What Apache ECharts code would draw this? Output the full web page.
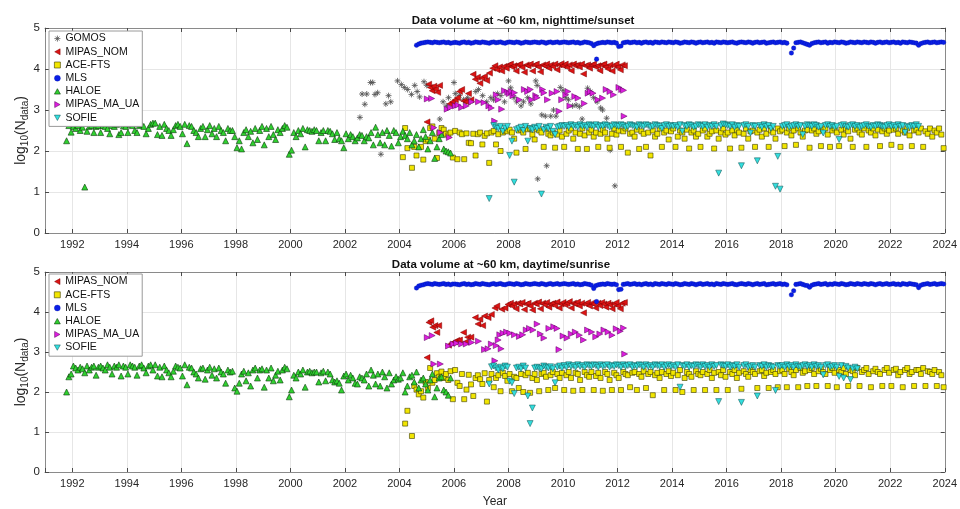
<!DOCTYPE html>
<html><head><meta charset="utf-8">
<script src="https://cdn.jsdelivr.net/npm/echarts@6/dist/echarts.min.js"></script>
<style>html,body{margin:0;padding:0;background:#fff}#c{width:960px;height:509px}</style>
</head><body><div id="c"></div>
<script>
// ---------------- DATA ----------------
const titles = ['Data volume at ~60 km, nighttime/sunset', 'Data volume at ~60 km, daytime/sunrise'];
const xTicks = [1992,1994,1996,1998,2000,2002,2004,2006,2008,2010,2012,2014,2016,2018,2020,2022,2024];
const yTicks = [0,1,2,3,4,5];
const legendTop = ['GOMOS','MIPAS_NOM','ACE-FTS','MLS','HALOE','MIPAS_MA_UA','SOFIE'];
const legendBot = ['MIPAS_NOM','ACE-FTS','MLS','HALOE','MIPAS_MA_UA','SOFIE'];

// monthly series: [startYear, startMonth] then one value per month (null = no point)
const haloeStart = [1991, 10];
const haloeN = [
2.25,2.62,2.46,
2.6,2.55,2.62,2.5,2.58,1.12,2.48,2.6,2.62,2.45,2.6,2.62,
2.45,2.62,2.6,2.55,2.42,2.62,2.6,2.65,2.4,2.45,2.62,2.6,
2.45,2.65,2.62,2.5,2.45,2.62,2.65,2.6,2.42,2.55,2.65,2.68,
2.68,2.4,2.6,2.38,2.65,2.55,2.5,2.38,2.52,2.62,2.65,2.6,
2.42,2.65,2.18,2.62,2.6,2.5,2.45,2.35,2.55,2.6,2.35,2.52,
2.62,2.42,2.55,2.35,2.6,2.5,2.45,2.25,2.55,2.5,2.5,2.35,
2.08,2.25,2.05,2.45,2.52,2.35,2.48,2.2,2.55,2.28,2.5,2.6,
2.15,2.55,2.35,2.6,2.4,2.28,2.52,2.45,2.55,2.62,2.58,1.92,
2.02,2.45,2.35,2.5,2.42,2.55,2.1,2.52,2.5,2.48,2.52,2.5,
2.25,2.45,2.5,2.25,2.5,2.48,2.42,2.28,2.45,2.3,2.25,2.08,
2.42,2.3,2.4,2.35,2.25,2.32,2.4,2.38,2.25,2.35,2.32,2.45,
2.15,2.58,2.4,2.2,2.45,2.15,2.5,2.38,2.12,2.5,2.45,2.2,
2.35,2.48,2.38,2.3,2.45,2.15,2.25,2.4,2.1,2.3,2.52,2.35,
2.05,2.25,2.45,1.82,2.1,2.3,2.4,2.05,2.0,1.98,1.95
];
const haloeD = [
2.0,2.38,2.45,
2.65,2.6,2.55,2.62,2.58,2.48,2.65,2.55,2.62,2.65,2.42,2.62,
2.65,2.6,2.55,2.68,2.62,2.45,2.65,2.62,2.68,2.4,2.65,2.62,
2.45,2.68,2.65,2.62,2.42,2.65,2.68,2.6,2.48,2.65,2.68,2.55,
2.68,2.4,2.62,2.38,2.65,2.55,2.48,2.38,2.52,2.65,2.62,2.6,
2.4,2.68,2.18,2.62,2.6,2.5,2.45,2.35,2.58,2.6,2.32,2.55,
2.62,2.42,2.58,2.35,2.6,2.5,2.45,2.22,2.55,2.5,2.52,2.1,
2.02,2.22,2.45,2.52,2.28,2.48,2.15,2.55,2.6,2.35,2.55,2.58,
2.12,2.55,2.35,2.6,2.28,2.42,2.52,2.3,2.55,2.62,2.58,1.88,
2.05,2.42,2.35,2.5,2.45,2.55,2.12,2.5,2.52,2.48,2.5,2.5,
2.25,2.48,2.52,2.28,2.5,2.45,2.3,2.25,2.28,2.22,2.05,2.4,
2.45,2.3,2.42,2.35,2.22,2.2,2.38,2.35,2.3,2.45,2.15,2.55,
2.42,2.2,2.45,2.15,2.5,2.38,2.1,2.48,2.2,2.3,2.38,2.32,
2.35,2.48,2.0,2.15,2.38,2.42,2.25,2.5,2.1,2.3,2.35,2.2,
2.05,2.3,2.45,1.88,2.1,2.35,2.38,2.05,2.0,1.92,2.35
];

const mlsStart = [2004, 8];
const mlsN = [
4.58,4.61,4.63,4.64,4.65,
4.66,4.65,4.64,4.66,4.65,4.64,4.65,4.66,4.64,4.65,4.63,4.64,
4.65,4.64,4.63,4.65,4.66,4.64,4.65,4.63,4.64,4.66,4.65,4.64,
4.66,4.65,4.64,4.63,4.65,4.66,4.64,4.65,4.66,4.64,4.63,4.65,
4.66,4.65,4.64,4.66,4.65,4.63,4.64,4.66,4.65,4.64,4.65,4.66,
4.65,4.64,4.66,4.65,4.63,4.65,4.66,4.64,4.65,4.66,4.64,4.65,
4.66,4.65,4.64,4.65,4.66,4.64,4.65,4.63,4.64,4.66,4.65,4.64,
4.62,4.57,4.61,4.63,4.64,4.65,4.64,4.66,4.65,4.64,4.65,4.63,
4.55,4.56,4.64,4.65,4.66,4.64,4.65,4.66,4.64,4.65,4.63,4.65,
4.66,4.64,4.65,4.63,4.66,4.65,4.64,4.66,4.65,4.64,4.66,4.65,
4.64,4.66,4.65,4.63,4.64,4.66,4.65,4.64,4.66,4.65,4.63,4.65,
4.66,4.64,4.65,4.66,4.64,4.65,4.63,4.66,4.65,4.64,4.66,4.65,
4.64,4.65,4.66,4.64,4.63,4.65,4.66,4.65,4.64,4.66,4.65,4.63,
4.65,4.66,4.64,4.65,4.66,4.63,4.64,4.65,4.66,4.64,4.65,4.66,
4.64,4.65,4.63,null,4.39,4.51,4.64,4.65,4.66,4.64,4.62,4.6,
4.58,4.62,4.64,4.65,4.66,4.64,4.65,4.66,4.63,4.65,4.64,4.66,
4.65,4.64,4.66,4.65,4.63,4.64,4.66,4.65,4.64,4.66,4.65,4.64,
4.66,4.65,4.64,4.66,4.65,4.63,4.65,4.66,4.64,4.65,4.66,4.64,
4.65,4.66,4.64,4.65,4.63,4.66,4.65,4.64,4.66,4.65,4.64,4.63,
4.58,4.62,4.64,4.65,4.66,4.64,4.65,4.66,4.64,4.65,4.66,4.65
];
const mlsExtraN = [[2011.23, 4.24]];
const mlsD = [
4.6,4.65,4.67,4.68,4.7,
4.71,4.7,4.69,4.71,4.7,4.69,4.7,4.71,4.69,4.7,4.68,4.7,
4.7,4.69,4.68,4.7,4.71,4.69,4.7,4.68,4.69,4.71,4.7,4.69,
4.71,4.7,4.69,4.68,4.7,4.71,4.69,4.7,4.71,4.69,4.68,4.7,
4.71,4.7,4.69,4.71,4.7,4.68,4.69,4.71,4.7,4.69,4.7,4.71,
4.7,4.69,4.71,4.7,4.68,4.7,4.71,4.69,4.7,4.71,4.69,4.7,
4.71,4.7,4.69,4.7,4.71,4.69,4.7,4.68,4.69,4.71,4.7,4.69,
4.67,4.59,4.66,4.68,4.69,4.7,4.69,4.71,4.7,4.69,4.7,4.68,
4.56,4.57,4.69,4.7,4.71,4.69,4.7,4.71,4.69,4.7,4.68,4.7,
4.71,4.69,4.7,4.68,4.71,4.7,4.69,4.71,4.7,4.69,4.71,4.7,
4.69,4.71,4.7,4.68,4.69,4.71,4.7,4.69,4.71,4.7,4.68,4.7,
4.71,4.69,4.7,4.71,4.69,4.7,4.68,4.71,4.7,4.69,4.71,4.7,
4.69,4.7,4.71,4.69,4.68,4.7,4.71,4.7,4.69,4.71,4.7,4.68,
4.7,4.71,4.69,4.7,4.71,4.68,4.69,4.7,4.71,4.69,4.7,4.71,
4.69,4.7,4.68,null,4.43,4.53,4.69,4.7,4.71,4.69,4.67,4.66,
4.62,4.67,4.69,4.7,4.71,4.69,4.7,4.71,4.68,4.7,4.69,4.71,
4.7,4.69,4.71,4.7,4.68,4.69,4.71,4.7,4.69,4.71,4.7,4.69,
4.71,4.7,4.69,4.71,4.7,4.68,4.7,4.71,4.69,4.7,4.71,4.69,
4.7,4.71,4.69,4.7,4.68,4.71,4.7,4.69,4.71,4.7,4.69,4.68,
4.61,4.67,4.69,4.7,4.71,4.69,4.7,4.71,4.69,4.7,4.71,4.7
];
const mlsExtraD = [[2011.23, 4.26]];

const aceStart = [2004, 1];
const aceN = [
null,1.85,2.56,2.07,null,1.59,2.1,1.89,null,2.1,1.79,2.24,
2.28,2.56,2.6,2.3,1.83,2.44,2.56,2.52,2.42,2.38,2.45,1.84,
2.49,1.8,2.45,2.41,1.8,2.43,2.2,2.19,2.42,1.89,2.41,2.45,
2.16,2.37,2.43,1.71,2.45,2.49,2.16,2.41,2.0,2.45,2.5,2.48,
2.52,2.45,2.3,1.96,2.5,2.52,2.45,2.05,2.53,2.55,2.4,2.28,
2.53,2.5,2.45,2.1,2.55,2.42,2.38,2.45,2.08,2.4,2.5,2.35,
2.1,2.42,2.5,2.55,2.3,2.45,2.05,2.42,2.55,2.38,2.05,2.45,
2.52,2.35,2.45,2.1,2.42,2.52,2.45,2.3,2.08,2.42,2.55,2.4,
2.5,2.1,2.48,2.55,1.96,2.42,2.45,2.35,2.52,2.05,2.48,2.42,
2.1,2.45,1.89,2.5,2.35,2.42,2.55,2.1,2.45,2.5,2.28,2.48,
2.55,2.1,2.35,2.5,2.45,2.3,2.52,2.06,2.45,2.5,2.35,2.42,
2.1,2.5,2.55,2.35,2.42,2.48,2.06,2.5,2.3,2.45,2.55,2.4,
2.45,2.06,2.5,2.38,2.52,2.45,2.08,2.42,2.55,2.3,2.48,2.5,
2.1,2.45,2.52,2.35,2.55,2.42,2.1,2.5,2.45,2.3,2.55,2.48,
2.52,2.12,2.45,2.55,2.38,2.5,2.15,2.55,2.45,2.35,2.5,2.52,
2.08,2.5,2.55,2.42,2.48,2.12,2.52,2.55,2.4,2.1,2.5,2.55,
2.45,2.12,2.52,2.4,2.55,2.48,2.3,2.1,2.52,2.55,2.45,2.4,
2.55,2.1,2.5,2.45,2.55,2.38,2.52,2.12,2.48,2.55,2.42,2.5,
2.15,2.52,2.55,2.42,2.1,2.5,2.45,2.55,2.38,2.12,2.5,2.52,
2.45,2.55,2.1,2.48,2.42,2.55,2.35,2.5,2.45,2.55,2.4,2.07
];
const aceD = [
null,null,1.21,1.53,null,0.9,2.15,2.06,1.94,2.02,1.86,2.25,
2.1,2.6,2.23,2.3,2.47,2.38,2.51,2.35,2.45,2.3,2.52,1.82,
2.55,2.23,2.15,2.45,1.82,2.06,2.43,2.19,1.9,2.35,2.42,2.32,
2.2,2.47,1.76,2.3,2.45,2.12,2.35,2.42,2.02,2.48,2.4,2.28,
2.45,2.02,2.38,2.35,2.1,2.45,2.0,2.42,2.48,1.98,2.35,2.45,
2.3,2.02,2.45,2.48,2.38,2.05,2.42,2.5,2.1,2.45,2.35,2.48,
2.05,2.42,2.5,2.35,2.03,2.48,2.45,2.3,2.05,2.5,2.42,2.38,
2.5,2.05,2.4,2.48,2.35,2.03,2.5,2.45,2.3,2.05,2.48,2.42,
2.35,2.05,2.5,2.45,2.42,2.12,2.48,2.5,2.05,2.45,2.38,2.52,
2.1,2.45,2.5,1.92,2.42,2.48,2.35,2.5,2.05,2.45,2.52,2.4,
2.48,2.05,2.42,2.55,2.0,2.35,2.5,2.45,2.38,2.05,2.52,2.45,
2.42,2.5,2.05,2.45,2.55,2.35,2.48,2.05,2.5,2.42,2.55,2.38,
2.05,2.5,2.45,2.55,2.35,2.48,2.08,2.52,2.45,2.38,2.55,2.5,
2.45,2.1,2.52,2.55,2.4,2.48,2.1,2.5,2.55,2.45,2.12,2.52,
2.55,2.45,2.12,2.58,2.5,2.42,2.55,2.12,2.6,2.48,2.52,2.15,
2.55,2.6,2.45,2.15,2.52,2.58,2.5,2.45,2.15,2.55,2.6,2.48,
2.12,2.55,2.5,2.6,2.45,2.15,2.55,2.52,2.42,2.6,2.15,2.5,
2.55,2.6,2.45,2.12,2.52,2.58,2.5,2.45,2.15,2.55,2.6,2.48,
2.15,2.55,2.58,2.42,2.5,2.12,2.55,2.6,2.45,2.5,2.15,2.55,
2.55,2.45,2.6,2.15,2.52,2.5,2.45,2.55,2.15,2.5,2.42,2.12
];

const sofieStart = [2007, 4];
const sofieN = [
0.84,null,2.62,2.58,2.55,2.6,2.48,2.56,2.6,
1.89,2.24,1.24,2.52,2.55,2.58,2.5,2.6,2.24,2.55,2.52,2.58,
2.55,2.6,0.95,2.52,2.58,2.55,2.6,2.48,2.4,2.58,2.6,2.62,
2.6,2.62,2.58,2.64,2.6,2.62,2.58,2.64,2.6,2.62,2.58,2.64,
2.62,2.6,2.64,2.58,2.62,2.6,2.64,2.62,2.58,2.6,2.64,2.62,
2.6,2.64,2.62,2.58,2.6,2.64,2.62,2.6,2.58,2.64,2.62,2.6,
2.64,2.62,2.58,2.6,2.64,2.62,2.6,2.55,2.62,2.64,2.6,2.62,
2.6,2.62,2.58,2.64,2.48,2.62,2.6,2.64,2.62,2.58,2.6,2.64,
2.62,2.6,2.64,2.58,2.62,2.6,2.64,2.6,1.46,2.62,2.66,2.64,
2.62,2.6,2.64,2.58,2.62,2.6,1.64,2.62,2.64,2.6,2.44,2.62,
2.6,1.76,2.62,2.58,2.64,2.6,2.62,2.55,2.6,1.14,1.87,1.07,
2.6,2.62,2.64,2.58,2.6,2.62,2.64,2.6,2.62,2.4,2.6,2.64,
2.62,2.6,2.64,2.62,2.58,2.6,2.44,2.62,2.64,2.6,2.62,2.58,
2.6,2.28,2.62,2.64,2.6,2.58,2.62,2.64,2.6,2.62,2.58,2.6,
2.62,2.64,2.6,2.58,2.62,2.6,2.64,2.62,2.6,2.58,2.62,2.64,
2.6,2.62,2.58,2.64,2.6,2.62,2.45,2.6,2.58,2.62,2.6,2.64,
2.6
];
const sofieD = [
2.2,2.63,2.65,2.6,2.55,2.62,2.58,2.65,2.62,
2.27,2.23,1.96,2.6,2.62,2.58,2.65,2.6,1.9,1.21,1.6,2.6,
2.62,2.6,2.58,2.65,2.62,2.6,2.63,2.58,2.23,2.62,2.65,2.6,
2.66,2.62,2.68,2.64,2.66,2.62,2.68,2.64,2.66,2.62,2.68,2.66,
2.64,2.68,2.66,2.62,2.68,2.64,2.66,2.68,2.62,2.66,2.64,2.68,
2.66,2.62,2.68,2.64,2.66,2.68,2.62,2.66,2.64,2.68,2.66,2.62,
2.68,2.64,2.66,2.62,2.68,2.66,2.64,2.68,2.62,2.66,2.68,2.64,
2.66,2.62,2.68,2.12,2.66,2.64,2.68,2.62,2.66,2.64,2.68,2.66,
2.62,2.68,2.64,2.66,2.62,2.68,2.64,2.66,1.76,2.68,2.66,2.64,
2.68,2.62,2.66,2.64,2.68,2.62,1.74,2.66,2.68,2.62,2.64,2.66,
2.62,1.9,2.66,2.64,2.68,2.62,2.66,2.64,2.62,2.04,2.66,2.64,
2.66,2.62,2.68,2.64,2.66,2.62,2.68,2.64,2.62,2.66,2.68,2.64,
2.66,2.62,2.68,2.64,2.66,2.62,2.43,2.66,2.68,2.62,2.64,2.66,
2.62,2.39,2.66,2.35,2.64,2.6,2.31,2.58,2.62,2.58
];

// irregular series: [decimal year, log10 N]
const nomN = [[2005.01,2.71],[2005.07,3.63],[2005.13,3.55],[2005.2,3.47],[2005.26,3.58],[2005.33,3.51],[2005.4,3.43],[2005.47,3.6],
[2005.85,3.15],[2005.95,3.2],[2006.05,3.25],[2006.13,3.3],[2006.2,3.45],[2006.28,3.5],[2006.36,3.22],[2006.45,3.2],[2006.53,3.4],[2006.62,3.25],
[2006.7,3.87],[2006.78,3.75],[2006.86,3.8],[2006.95,3.65],[2007.03,3.78],[2007.12,3.82],[2007.2,3.72],[2007.3,3.9],
[2007.42,4.02],[2007.5,4.08],[2007.58,3.98],[2007.67,4.05],[2007.75,3.95],[2007.83,4.06],[2007.92,4.02],
[2008.0,4.1],[2008.07,4.12],[2008.13,4.05],[2008.2,4.08],[2008.28,3.95],[2008.35,4.1],[2008.42,4.12],[2008.5,4.04],[2008.58,3.92],[2008.65,4.1],[2008.72,4.08],[2008.8,4.12],[2008.88,3.95],[2008.95,4.1],
[2009.02,4.12],[2009.1,4.05],[2009.17,3.93],[2009.25,4.1],[2009.33,4.08],[2009.4,4.12],[2009.48,4.02],[2009.55,4.1],[2009.63,4.06],[2009.7,4.12],[2009.78,3.98],[2009.86,4.1],[2009.93,4.13],
[2010.0,4.08],[2010.08,4.12],[2010.15,4.04],[2010.23,4.1],[2010.3,3.96],[2010.38,4.12],[2010.45,4.08],[2010.53,4.1],[2010.6,4.05],[2010.68,4.12],[2010.75,3.88],[2010.82,4.08],[2010.9,4.1],[2010.97,4.02],
[2011.05,4.1],[2011.12,4.12],[2011.2,4.05],[2011.28,4.08],[2011.35,3.96],[2011.42,4.1],[2011.5,4.12],[2011.57,4.05],[2011.65,4.0],[2011.72,4.1],[2011.8,3.95],[2011.88,4.08],[2011.95,4.12],
[2012.02,4.05],[2012.1,3.98],[2012.17,4.1],[2012.25,4.08]];
const nomD = [[2005.01,2.86],[2005.08,3.74],[2005.15,3.78],[2005.22,3.62],[2005.3,3.66],[2005.37,3.49],[2005.44,3.66],
[2005.8,3.17],[2005.92,3.22],[2006.02,3.25],[2006.1,3.29],[2006.2,3.3],[2006.35,3.49],[2006.42,3.25],[2006.5,3.37],[2006.62,3.37],
[2006.78,3.86],[2006.88,3.7],[2006.95,3.82],[2007.05,3.66],[2007.12,3.9],[2007.25,3.86],[2007.37,3.94],
[2007.5,4.1],[2007.57,4.15],[2007.75,4.07],[2007.87,4.1],[2007.98,4.19],
[2008.07,4.22],[2008.13,4.15],[2008.2,4.2],[2008.28,4.08],[2008.35,4.22],[2008.42,4.2],[2008.5,4.24],[2008.58,4.06],[2008.65,4.2],[2008.72,4.22],[2008.8,4.15],[2008.88,4.05],[2008.95,4.22],
[2009.02,4.2],[2009.1,4.25],[2009.17,4.08],[2009.25,4.22],[2009.33,4.18],[2009.4,4.24],[2009.48,4.12],[2009.55,4.2],[2009.63,4.22],[2009.7,4.16],[2009.78,4.25],[2009.86,4.1],[2009.93,4.2],
[2010.0,4.24],[2010.08,4.18],[2010.15,4.22],[2010.23,4.26],[2010.3,4.1],[2010.38,4.22],[2010.45,4.2],[2010.53,4.25],[2010.6,4.15],[2010.68,4.22],[2010.75,3.98],[2010.82,4.2],[2010.9,4.24],[2010.97,4.15],
[2011.05,4.22],[2011.12,4.2],[2011.2,4.1],[2011.28,4.22],[2011.35,4.16],[2011.42,4.24],[2011.5,4.2],[2011.57,4.12],[2011.65,4.22],[2011.72,4.18],[2011.8,4.08],[2011.88,4.2],[2011.95,4.24],
[2012.02,4.15],[2012.1,4.08],[2012.17,4.22],[2012.25,4.24]];
const mauN = [[2005.02,3.27],[2005.18,3.28],[2005.26,2.57],[2005.5,2.45],[2005.83,2.33],
[2005.75,3.02],[2005.87,3.06],[2006.05,3.1],[2006.15,3.12],[2006.28,3.06],[2006.45,3.1],[2006.65,3.2],[2006.9,3.2],
[2007.1,3.18],[2007.28,3.1],[2007.37,3.05],[2007.49,2.73],[2007.55,3.37],[2007.62,3.25],[2007.75,3.02],
[2007.85,3.47],[2007.97,3.43],[2008.03,3.4],[2008.1,3.45],[2008.16,3.35],[2008.22,3.42],[2008.4,3.25],[2008.58,3.5],[2008.7,3.45],[2008.8,3.5],[2008.85,3.25],[2009.0,3.35],[2009.05,3.3],
[2009.25,3.5],[2009.3,3.42],[2009.43,3.25],[2009.6,3.41],[2009.78,3.45],[2009.86,2.97],[2009.95,3.25],[2010.1,3.37],[2010.18,3.45],[2010.25,3.1],[2010.43,3.33],[2010.55,3.29],
[2010.78,3.16],[2010.92,3.41],[2011.0,3.45],[2011.1,3.41],[2011.28,3.25],[2011.45,3.29],[2011.58,3.5],[2011.72,3.45],[2011.85,3.37],[2012.05,3.55],[2012.15,3.5],[2012.22,3.48],[2012.24,2.85]];
const mauD = [[2005.02,3.36],[2005.2,3.41],[2005.26,2.7],[2005.5,2.7],
[2005.8,3.15],[2005.97,3.2],[2006.1,3.22],[2006.28,3.2],[2006.45,3.2],[2006.65,3.24],[2006.9,3.27],[2007.12,3.06],[2007.25,3.08],[2007.37,3.2],[2007.55,3.16],[2007.73,3.08],[2007.62,3.3],[2007.68,3.43],[2007.5,2.78],
[2007.8,3.47],[2007.93,3.5],[2008.05,3.47],[2008.22,3.43],[2008.4,3.39],[2008.52,3.43],[2008.65,3.55],[2008.77,3.59],[2008.9,3.55],[2009.05,3.7],[2009.17,3.45],[2009.3,3.35],[2009.48,3.59],[2009.66,3.63],[2009.78,3.59],[2009.85,3.06],
[2010.0,3.4],[2010.15,3.35],[2010.3,3.45],[2010.45,3.5],[2010.6,3.42],[2010.75,3.3],[2010.9,3.55],[2011.05,3.5],[2011.2,3.38],[2011.35,3.45],[2011.5,3.55],[2011.65,3.5],[2011.8,3.42],[2011.95,3.58],[2012.1,3.52],[2012.22,3.6],[2012.26,2.95]];
const gomosN = [[2002.55,2.82],[2002.63,3.39],[2002.73,3.14],[2002.8,3.39],[2002.94,3.67],[2003.02,3.67],[2003.1,3.38],[2003.2,3.42],[2003.32,1.92],[2003.5,3.15],[2003.6,3.35],[2003.68,3.2],
[2003.93,3.71],[2004.07,3.62],[2004.18,3.55],[2004.3,3.5],[2004.44,3.38],[2004.56,3.6],[2004.65,3.45],[2004.74,3.32],[2004.9,3.69],[2005.0,3.6],[2005.48,2.78],[2005.6,3.2],[2005.72,3.1],[2005.8,3.3],
[2006.0,3.67],[2006.05,3.4],[2006.2,3.35],[2006.35,3.25],[2006.5,3.3],[2006.6,3.2],[2006.8,3.45],[2006.9,3.5],[2007.05,3.35],[2007.2,3.2],[2007.35,3.3],[2007.45,3.25],[2007.6,3.4],[2007.72,3.35],[2007.85,3.2],
[2008.0,3.71],[2008.08,3.54],[2008.2,3.3],[2008.3,3.2],[2008.46,3.1],[2008.55,3.2],[2008.7,3.3],[2008.82,3.15],[2009.0,3.71],[2009.05,3.6],[2009.07,1.32],[2009.22,2.88],[2009.35,2.85],[2009.4,1.64],[2009.55,2.85],[2009.65,3.0],[2009.74,2.85],
[2009.9,3.55],[2010.0,3.48],[2010.1,3.3],[2010.2,3.25],[2010.35,3.1],[2010.48,3.12],[2010.6,3.08],[2010.7,2.78],[2010.9,3.53],[2011.0,3.45],[2011.12,3.3],[2011.25,3.2],[2011.38,3.05],[2011.45,3.0],[2011.6,2.8],[2011.73,2.02],[2011.9,1.15]];

// ---------------- CHART ----------------
function monthly(start, vals) {
  const out = [];
  vals.forEach((v, i) => { if (v != null) out.push([start[0] + (start[1] - 1 + i + 0.5) / 12, v]); });
  return out;
}
const FONT = 'Liberation Sans';
const STY = {
  'GOMOS':       {symbol:'path://M5,0L5,10M0,5L10,5M1.6,1.6L8.4,8.4M1.6,8.4L8.4,1.6', size:6, color:'rgba(0,0,0,0)', border:'#505050', bw:0.8},
  'MIPAS_NOM':   {symbol:'path://M0,5L9,0L9,10Z', size:6, color:'#dc1414', border:'#7a0000', bw:0.5},
  'ACE-FTS':     {symbol:'rect', size:5, color:'#f2e600', border:'#3a3a00', bw:0.6},
  'MLS':         {symbol:'circle', size:4.6, color:'#0a1ee6', border:'#0010a0', bw:0.3},
  'HALOE':       {symbol:'path://M5,0L10,9L0,9Z', size:6, color:'#2fd12f', border:'#0b3a0b', bw:0.6},
  'MIPAS_MA_UA': {symbol:'path://M9,5L0,0L0,10Z', size:6, color:'#dc1ede', border:'#5a005a', bw:0.5},
  'SOFIE':       {symbol:'path://M0,0L10,0L5,9Z', size:6, color:'#33dede', border:'#0a4a4a', bw:0.5}
};
function mk(name, data, gi) {
  const s = STY[name];
  return {type:'scatter', name, data, xAxisIndex: gi*2, yAxisIndex: gi*2,
    symbol:s.symbol, symbolSize:s.size,
    itemStyle:{color:s.color, borderColor:s.border, borderWidth:s.bw, opacity:1},
    emphasis:{disabled:true}, silent:true, animation:false};
}
const series = [
  mk('GOMOS', gomosN, 0),
  mk('MIPAS_NOM', nomN, 0),
  mk('ACE-FTS', monthly(aceStart, aceN), 0),
  mk('MLS', monthly(mlsStart, mlsN).concat(mlsExtraN), 0),
  mk('HALOE', monthly(haloeStart, haloeN), 0),
  mk('MIPAS_MA_UA', mauN, 0),
  mk('SOFIE', monthly(sofieStart, sofieN), 0),
  mk('MIPAS_NOM', nomD, 1),
  mk('ACE-FTS', monthly(aceStart, aceD), 1),
  mk('MLS', monthly(mlsStart, mlsD).concat(mlsExtraD), 1),
  mk('HALOE', monthly(haloeStart, haloeD), 1),
  mk('MIPAS_MA_UA', mauD, 1),
  mk('SOFIE', monthly(sofieStart, sofieD), 1)
];
const X0 = 1991, X1 = xTicks[xTicks.length - 1];
const edge = '#8a8a8a', tickC = '#4a4a4a', txt = '#262626';
function xAx(gi, pos) {
  const main = pos === 'bottom';
  return {type:'value', gridIndex:gi, position:pos, min:X0, max:X1, minInterval:2, maxInterval:2, splitNumber:16,
    axisLine:{show:true, onZero:false, lineStyle:{color:edge, width:1}},
    axisTick:{show:true, inside:true, length:4, lineStyle:{color:tickC}},
    axisLabel:{show:main, fontFamily:FONT, fontSize:11, color:txt, margin:6,
      formatter:v => xTicks.indexOf(Math.round(v*1000)/1000) >= 0 ? String(Math.round(v)) : ''},
    splitLine:{show:main, lineStyle:{color:'#e6e6e6', width:1}},
    name:(main && gi===1) ? 'Year' : '', nameLocation:'middle', nameGap:24, nameMoveOverlap:false,
    nameTextStyle:{fontFamily:FONT, fontSize:12, color:txt}};
}
function yAx(gi, pos) {
  const main = pos === 'left';
  return {type:'value', gridIndex:gi, position:pos, min:yTicks[0], max:yTicks[yTicks.length-1], interval:1,
    axisLine:{show:true, onZero:false, lineStyle:{color:edge, width:1}},
    axisTick:{show:true, inside:true, length:4, lineStyle:{color:tickC}},
    axisLabel:{show:main, fontFamily:FONT, fontSize:11.5, color:txt, margin:5},
    splitLine:{show:main, lineStyle:{color:'#e6e6e6', width:1}},
    name: main ? '{a|log}{s|10}{a|(N}{s|data}{a|)}' : '', nameLocation:'middle', nameRotate:90, nameGap:15,
    nameMoveOverlap:false,
    nameTextStyle:{fontFamily:FONT, color:txt, rich:{
      a:{fontFamily:FONT, fontSize:14, color:txt, lineHeight:18, verticalAlign:'middle'},
      s:{fontFamily:FONT, fontSize:10, color:txt, lineHeight:18, verticalAlign:'bottom'}}}};
}
function leg(names, top) {
  return {data:names.map(n => ({name:n, icon:STY[n].symbol,
      itemStyle:{color:STY[n].color, borderColor:STY[n].border, borderWidth:STY[n].bw}})),
    orient:'vertical', left:49, top:top, itemWidth:6, itemHeight:6, itemGap:0,
    padding:[1,3,2,5], backgroundColor:'#fff', borderColor:'#9a9a9a', borderWidth:1, borderRadius:0,
    selectedMode:false, textStyle:{fontFamily:FONT, fontSize:10.5, color:'#111', lineHeight:13.2}};
}
const option = {
  animation:false, backgroundColor:'#fff',
  title:[
    {text:titles[0], left:518, top:10, textAlign:'center', textStyle:{fontFamily:FONT, fontSize:11.5, fontWeight:'bold', color:'#111'}},
    {text:titles[1], left:496, top:254, textAlign:'center', textStyle:{fontFamily:FONT, fontSize:11.5, fontWeight:'bold', color:'#111'}}
  ],
  grid:[{left:45, right:12, top:28, height:205}, {left:45, right:12, top:272, height:203}],
  xAxis:[xAx(0,'bottom'), xAx(0,'top'), xAx(1,'bottom'), xAx(1,'top')],
  yAxis:[yAx(0,'left'), yAx(0,'right'), yAx(1,'left'), yAx(1,'right')],
  legend:[leg(legendTop, 31), leg(legendBot, 274)],
  series
};
const chart = echarts.init(document.getElementById('c'), null, {renderer:'canvas'});
chart.setOption(option);
</script></body></html>
